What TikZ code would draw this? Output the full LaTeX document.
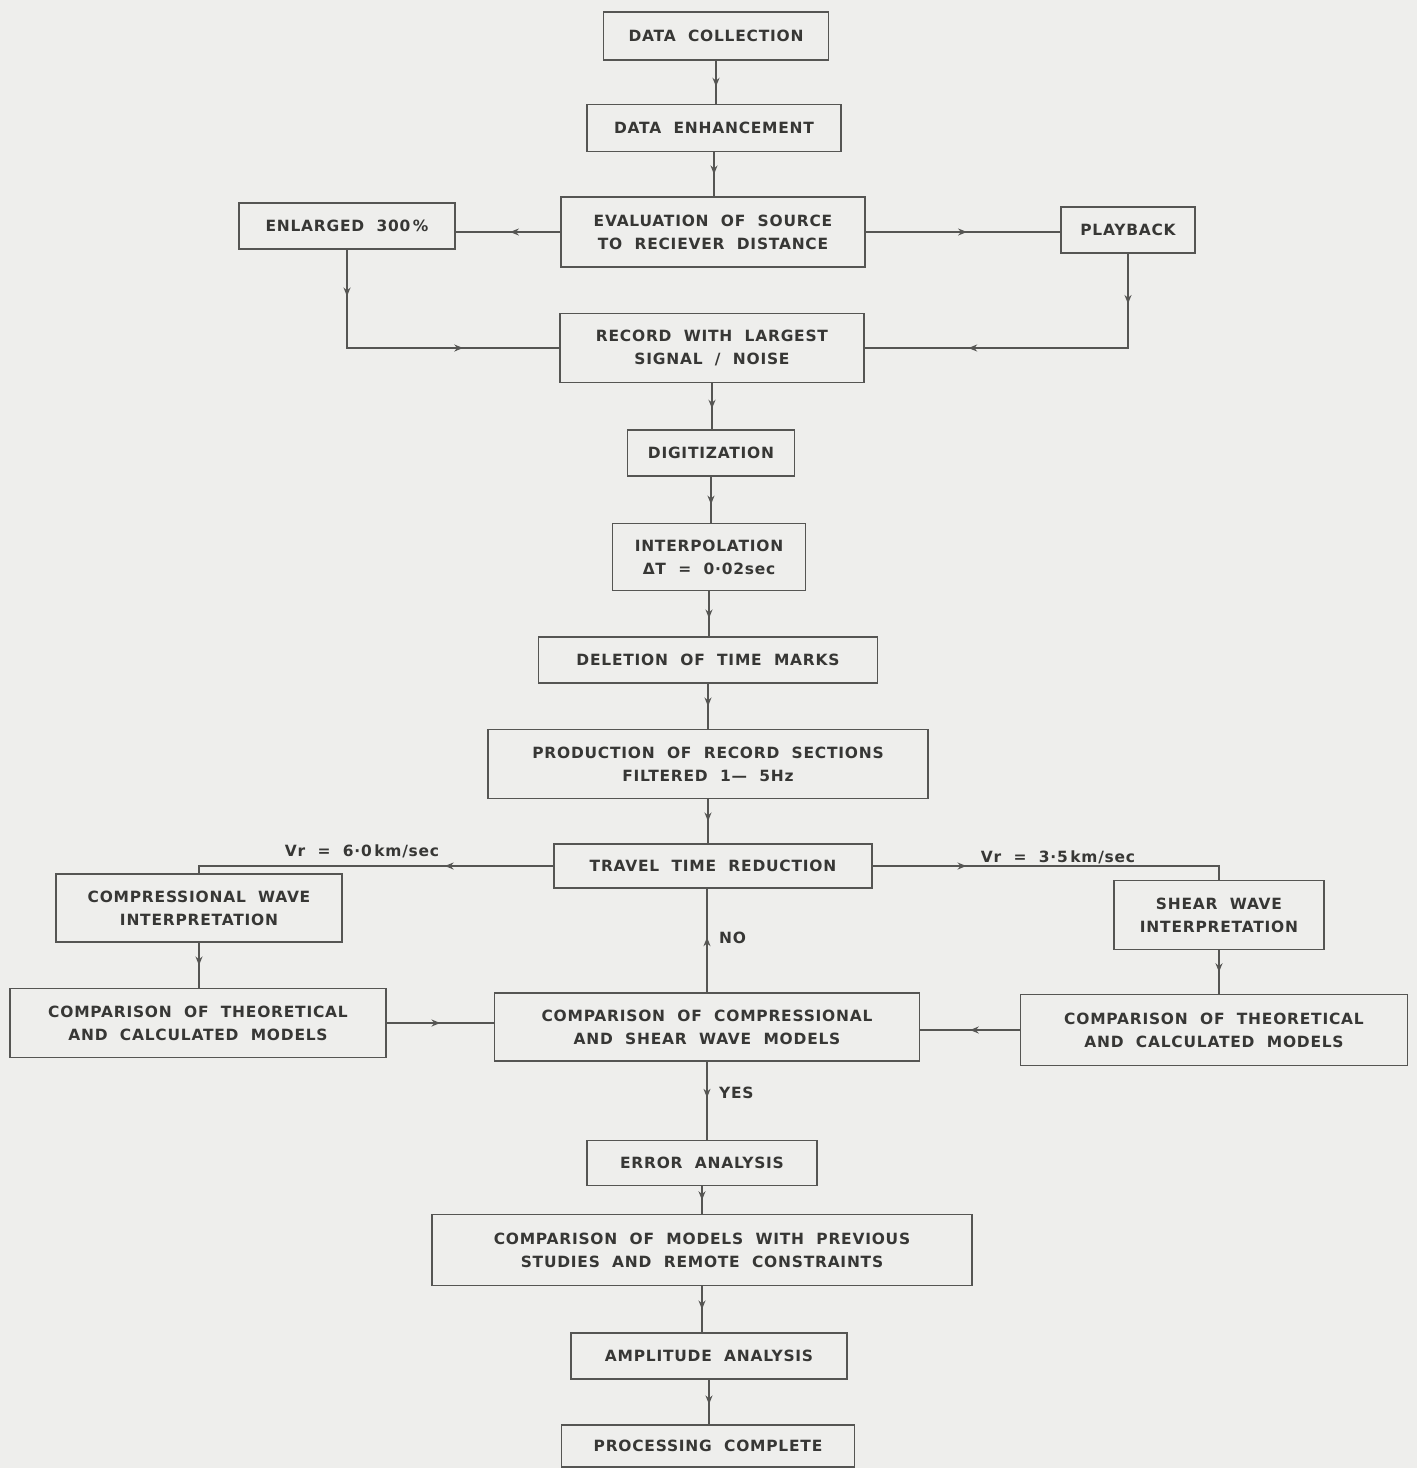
\documentclass[tikz,border=0pt]{standalone}
\usepackage{fontspec}
\setmainfont{DejaVu Sans}[LetterSpace=5,WordSpace=2.0]
\usetikzlibrary{arrows.meta,decorations.markings,positioning}

\definecolor{paper}{RGB}{238,238,236}
\definecolor{ink}{RGB}{55,55,53}
\definecolor{rule}{RGB}{85,85,83}

\tikzset{
  box/.style={draw=rule, line width=0.8pt, text=ink, align=center, inner sep=2pt,
    font=\fontsize{8.8}{13}\selectfont\bfseries},
  flow/.style={draw=rule, line width=0.8pt},
  tipat/.style={postaction={decorate,decoration={markings,
    mark=at position #1 with {\arrow{Stealth[length=5pt,width=4pt]}}}}},
  lbl/.style={text=ink, inner sep=1pt, font=\fontsize{8.8}{11}\selectfont\bfseries},
}

\begin{document}
\begin{tikzpicture}[x=0.02cm, y=-0.02cm]

\fill[paper] (0,0) rectangle (1417,1468);
\useasboundingbox (0,0) rectangle (1417,1468);

% main column
\node[box, minimum width=4.5cm, minimum height=0.96cm] (collect) at (716,36) {DATA COLLECTION};
\node[box, minimum width=5.08cm, minimum height=0.94cm] (enhance) at (714,128) {DATA ENHANCEMENT};
\node[box, minimum width=6.08cm, minimum height=1.4cm] (evaluate) at (713,232) {EVALUATION OF SOURCE\\TO RECIEVER DISTANCE};
\node[box, minimum width=4.32cm, minimum height=0.92cm] (enlarge) at (347,226) {ENLARGED 300\,\%};
\node[box, minimum width=2.68cm, minimum height=0.92cm] (playback) at (1128,230) {PLAYBACK};
\node[box, minimum width=6.08cm, minimum height=1.38cm] (record) at (712,348) {RECORD WITH LARGEST\\SIGNAL / NOISE};
\node[box, minimum width=3.34cm, minimum height=0.92cm] (digitize) at (711,453) {DIGITIZATION};
\node[box, minimum width=3.86cm, minimum height=1.34cm] (interp) at (709,557) {INTERPOLATION\\ΔT = 0·02sec};
\node[box, minimum width=6.78cm, minimum height=0.92cm] (delete) at (708,660) {DELETION OF TIME MARKS};
\node[box, minimum width=8.8cm, minimum height=1.38cm] (produce) at (708,764) {PRODUCTION OF RECORD SECTIONS\\FILTERED 1— 5Hz};
\node[box, minimum width=6.36cm, minimum height=0.88cm] (travel) at (713,866) {TRAVEL TIME REDUCTION};

% the two branches
\node[box, minimum width=5.72cm, minimum height=1.36cm] (pwave) at (199,908) {COMPRESSIONAL WAVE\\INTERPRETATION};
\node[box, minimum width=4.2cm, minimum height=1.38cm] (swave) at (1219,915) {SHEAR WAVE\\INTERPRETATION};
\node[box, minimum width=7.52cm, minimum height=1.38cm] (pmodel) at (198,1023) {COMPARISON OF THEORETICAL\\AND CALCULATED MODELS};
\node[box, minimum width=8.5cm, minimum height=1.36cm] (compare) at (707,1027) {COMPARISON OF COMPRESSIONAL\\AND SHEAR WAVE MODELS};
\node[box, minimum width=7.74cm, minimum height=1.42cm] (smodel) at (1214,1030) {COMPARISON OF THEORETICAL\\AND CALCULATED MODELS};

% end of the chain
\node[box, minimum width=4.6cm, minimum height=0.9cm] (error) at (702,1163) {ERROR ANALYSIS};
\node[box, minimum width=10.8cm, minimum height=1.42cm] (previous) at (702,1250) {COMPARISON OF MODELS WITH PREVIOUS\\STUDIES AND REMOTE CONSTRAINTS};
\node[box, minimum width=5.52cm, minimum height=0.92cm] (amplitude) at (709,1356) {AMPLITUDE ANALYSIS};
\node[box, minimum width=5.86cm, minimum height=0.84cm] (complete) at (708,1446) {PROCESSING COMPLETE};

\node[lbl] (vrp) at (362,851) {Vr = 6·0\,km/sec};
\node[lbl] (vrs) at (1058,857) {Vr = 3·5\,km/sec};
\node[lbl, anchor=west] (no) at (717,938) {NO};
\node[lbl, anchor=west] (yes) at (717,1093) {YES};

\draw[flow, tipat=0.6] (collect) -- (collect |- enhance.north);
\draw[flow, tipat=0.5] (enhance) -- (enhance |- evaluate.north);
\draw[flow, tipat=0.48] (evaluate) -- (evaluate -| enlarge.east);
\draw[flow, tipat=0.52] (evaluate) -- (evaluate -| playback.west);
\draw[flow, tipat=0.15, tipat=0.69] (enlarge) |- (record);
\draw[flow, tipat=0.14, tipat=0.71] (playback) |- (record);
\draw[flow, tipat=0.55] (record) -- (record |- digitize.north);
\draw[flow, tipat=0.6] (digitize) -- (digitize |- interp.north);
\draw[flow, tipat=0.6] (interp) -- (interp |- delete.north);
\draw[flow, tipat=0.5] (delete) -- (delete |- produce.north);
\draw[flow, tipat=0.5] (produce) -- (produce |- travel.north);
\draw[flow, tipat=0.3] (travel) -| (pwave);
\draw[flow, tipat=0.26] (travel) -| (swave);
\draw[flow, tipat=0.5] (pwave) -- (pwave |- pmodel.north);
\draw[flow, tipat=0.5] (swave) -- (swave |- smodel.north);
\draw[flow, tipat=0.5] (pmodel) -- (pmodel -| compare.west);
\draw[flow, tipat=0.5] (smodel) -- (smodel -| compare.east);
\draw[flow, tipat=0.53] (compare) -- (compare |- travel.south);
\draw[flow, tipat=0.46] (compare) -- (compare |- error.north);
\draw[flow, tipat=0.5] (error) -- (error |- previous.north);
\draw[flow, tipat=0.5] (previous) -- (previous |- amplitude.north);
\draw[flow, tipat=0.55] (amplitude) -- (amplitude |- complete.north);

\end{tikzpicture}
\end{document}
